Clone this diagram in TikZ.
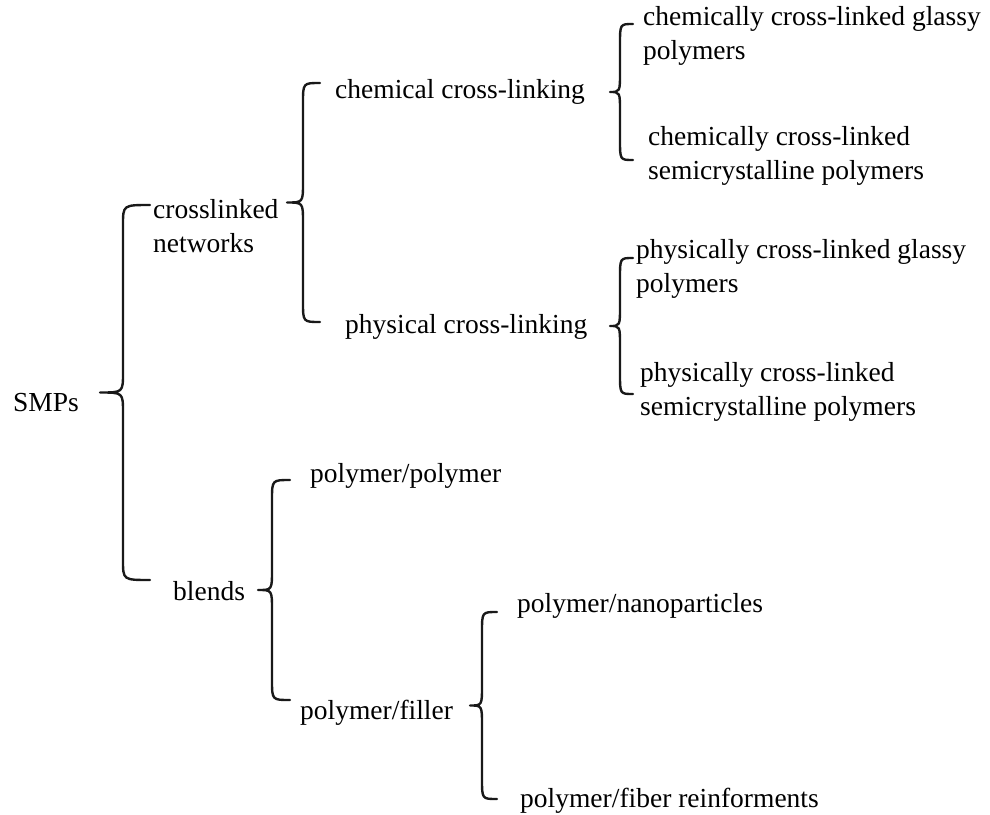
\documentclass[tikz,border=0pt]{standalone}
\usepackage{fontspec}
\setmainfont{Liberation Serif}
\newcommand{\mybrace}[5]{% xv, ytop, ybot, xtip, xtail
  \pgfmathsetmacro{\ym}{(#2+#3)/2}
  \draw[bracestyle] (#5,#2) .. controls (#1,#2) .. (#1,#2+20) -- (#1,\ym-20)
    .. controls (#1,\ym) .. (#4,\ym) .. controls (#1,\ym) .. (#1,\ym+20)
    -- (#1,#3-20) .. controls (#1,#3) .. (#5,#3);}
\begin{document}
\begin{tikzpicture}[x=1pt,y=-1pt,
  bracestyle/.style={line width=2.4pt,line cap=round,line join=round,black!90},
  lab/.style={anchor=west,inner sep=0pt,align=left,font=\fontsize{27.5}{34}\selectfont}]
\useasboundingbox (0,0) rectangle (990,814);
% texts
\node[lab] (smp) at (13,403) {SMPs};
\node[lab] (cn) at (153,226) {crosslinked\\networks};
\node[lab] (chem) at (335,92) {chemical cross-linking};
\node[lab] (phys) at (345,327) {physical cross-linking};
\node[lab] (ccg) at (643,36) {chemically cross-linked glassy\\polymers};
\node[lab] (ccs) at (648,156) {chemically cross-linked\\semicrystalline polymers};
\node[lab] (pcg) at (636,269) {physically cross-linked glassy\\polymers};
\node[lab] (pcs) at (640,392) {physically cross-linked\\semicrystalline polymers};
\node[lab] (pp) at (310,476) {polymer/polymer};
\node[lab] (bl) at (173,591) {blends};
\node[lab] (pn) at (517,606) {polymer/nanoparticles};
\node[lab] (pf) at (300,713) {polymer/filler};
\node[lab] (pfr) at (520,801) {polymer/fiber reinforments};
% braces
\mybrace{123}{205}{580}{100}{150}
\mybrace{303}{83}{322}{287}{320}
\mybrace{620}{24}{160}{610}{633}
\mybrace{620}{258}{394}{610}{633}
\mybrace{272}{480}{700}{258}{290}
\mybrace{482}{612}{799}{470}{497}
\end{tikzpicture}
\end{document}
